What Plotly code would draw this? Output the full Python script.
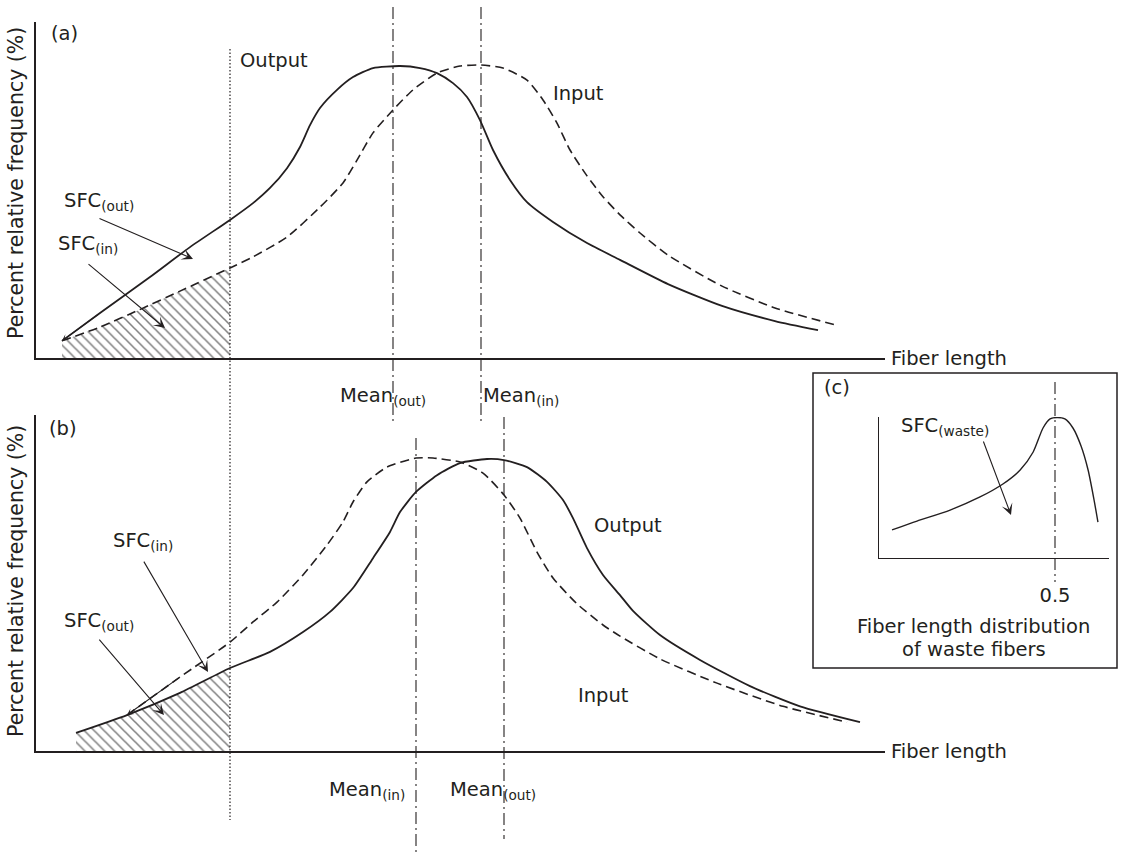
import plotly.graph_objects as go

W, H = 1123, 855
INK = "#231f20"
FONT = "DejaVu Sans"
FS = 19.5

# ---------------- data (arbitrary units) ----------------
# Panel (a): fiber length (x) vs percent relative frequency (y)
a_out_x = [2.6, 6.4, 11.4, 15.4, 19.4, 21.7, 23.4, 25.1, 26.4, 27.4, 28.4, 30.1, 31.7,
           33.7, 36.4, 38.4, 40.1, 41.7, 43.1, 44.4, 45.7, 47.4, 49.1, 51.7, 55.1,
           58.4, 63.2, 68.6, 73.9, 78.2]
a_out_y = [5.1, 13.4, 24.1, 33.0, 41.1, 46.1, 50.6, 56.5, 62.8, 69.3, 74.4, 79.8, 83.6,
           86.3, 86.9, 86.3, 84.8, 81.8, 77.7, 70.8, 61.9, 53.0, 46.4, 40.5, 34.2,
           29.2, 22.0, 15.5, 11.0, 8.3]
a_in_x = [2.6, 6.4, 10.3, 14.4, 19.4, 21.7, 25.1, 28.4, 30.7, 32.1, 33.7, 35.7, 37.7,
          40.1, 42.4, 44.5, 46.7, 49.1, 50.7, 52.1, 53.4, 55.1, 56.7, 58.4, 60.4,
          63.2, 68.6, 73.9, 80.0]
a_in_y = [5.1, 9.2, 14.3, 19.9, 26.8, 30.1, 36.0, 44.9, 52.1, 58.9, 67.0, 73.8, 79.8,
          84.8, 86.9, 87.2, 86.3, 82.7, 76.8, 69.9, 61.9, 54.2, 48.0, 42.6, 37.2,
          30.6, 21.4, 14.9, 9.8]

# Panel (b)
b_out_x = [4.0, 9.1, 14.4, 19.4, 23.4, 26.7, 29.4, 31.7, 33.7, 35.4, 36.4, 38.0, 40.1,
           42.4, 45.1, 46.8, 49.1, 51.1, 52.7, 53.7, 55.1, 56.7, 58.4, 59.7, 62.4,
           66.4, 71.4, 76.4, 82.4]
b_out_y = [5.4, 10.7, 17.3, 24.7, 29.5, 35.4, 41.4, 48.5, 57.4, 65.2, 71.1, 77.1, 82.1,
           85.7, 86.9, 86.6, 84.5, 80.1, 74.7, 69.3, 60.4, 52.4, 46.4, 41.7, 34.5,
           27.1, 19.3, 13.3, 8.6]
b_in_x = [9.1, 14.4, 19.4, 21.7, 24.1, 26.7, 29.1, 30.7, 31.7, 33.1, 35.1, 38.0, 39.7,
          42.4, 44.7, 46.8, 48.4, 50.1, 51.7, 54.1, 56.7, 58.4, 62.4, 68.1, 74.7, 81.1]
b_in_y = [10.7, 22.0, 32.4, 38.4, 44.3, 52.4, 61.3, 68.2, 74.1, 80.1, 84.5, 87.2, 87.2,
          86.0, 82.7, 76.2, 69.3, 59.2, 51.5, 43.8, 37.5, 34.2, 27.4, 20.2, 13.3, 8.6]

# Panel (c): waste fibre length distribution
c_x = [0.037, 0.108, 0.202, 0.287, 0.352, 0.401, 0.438, 0.466, 0.486, 0.506,
       0.528, 0.551, 0.574, 0.594, 0.611, 0.622]
c_y = [19.9, 26.2, 34.0, 43.3, 52.5, 62.4, 75.2, 92.2, 98.6, 99.6,
       98.6, 92.2, 79.4, 62.4, 41.1, 25.5]

sfc_cut = [19.4]                  # short-fibre cut-off length
mean_a = [35.7, 44.5]             # Mean(out), Mean(in) in (a)
mean_b = [38.0, 46.8]             # Mean(in), Mean(out) in (b)
c_tick = [0.5]
c_tick_text = ["0.5"]

# ---------------- helpers ----------------
def px(x):
    return x / W


def py(y):
    return 1 - y / H


fig = go.Figure()

line_solid = dict(color=INK, width=1.8, shape="spline", smoothing=0.6)
line_dash = dict(color=INK, width=1.6, dash="9px,5px", shape="spline", smoothing=0.6)

# hatched SFC areas
ha_x = [x for x in a_in_x if x <= sfc_cut[0]]
ha_y = a_in_y[:len(ha_x)]
hb_x = [x for x in b_out_x if x <= sfc_cut[0]]
hb_y = b_out_y[:len(hb_x)]
hatch = dict(shape="\\", fgcolor="#000000", bgcolor="rgba(0,0,0,0)", size=7, solidity=0.22)
fig.add_trace(go.Scatter(x=ha_x, y=ha_y, mode="lines", line=dict(width=0),
                         fill="tozeroy", fillpattern=hatch, fillcolor="rgba(0,0,0,0)",
                         xaxis="x", yaxis="y", hoverinfo="skip"))
fig.add_trace(go.Scatter(x=hb_x, y=hb_y, mode="lines", line=dict(width=0),
                         fill="tozeroy", fillpattern=hatch, fillcolor="rgba(0,0,0,0)",
                         xaxis="x2", yaxis="y2", hoverinfo="skip"))

fig.add_trace(go.Scatter(x=a_out_x, y=a_out_y, mode="lines", line=line_solid,
                         xaxis="x", yaxis="y"))
fig.add_trace(go.Scatter(x=a_in_x, y=a_in_y, mode="lines", line=line_dash,
                         xaxis="x", yaxis="y"))
fig.add_trace(go.Scatter(x=b_out_x, y=b_out_y, mode="lines", line=line_solid,
                         xaxis="x2", yaxis="y2"))
fig.add_trace(go.Scatter(x=b_in_x, y=b_in_y, mode="lines", line=line_dash,
                         xaxis="x2", yaxis="y2"))
fig.add_trace(go.Scatter(x=c_x, y=c_y, mode="lines",
                         line=dict(color=INK, width=1.4, shape="spline", smoothing=0.7),
                         xaxis="x3", yaxis="y3"))

ax_common = dict(showline=True, linecolor=INK, linewidth=1.6, showgrid=False,
                 zeroline=False, showticklabels=False, ticks="", fixedrange=True)
ax_dom = [px(36), px(885)]
fig.update_layout(
    xaxis=dict(domain=ax_dom, range=[0, 84.9], anchor="y", **ax_common),
    yaxis=dict(domain=[py(358), py(22)], range=[0, 100], anchor="x", **ax_common),
    xaxis2=dict(domain=ax_dom, range=[0, 84.9], anchor="y2", **ax_common),
    yaxis2=dict(domain=[py(751), py(415)], range=[0, 100], anchor="x2", **ax_common),
    xaxis3=dict(domain=[px(879), px(1109)], range=[0, 230 / 352], anchor="y3",
                showline=True, linecolor=INK, linewidth=1.4, showgrid=False, zeroline=False,
                ticks="", tickvals=c_tick, ticktext=c_tick_text, showticklabels=True,
                ticklabelstandoff=19, tickfont=dict(family=FONT, size=FS, color=INK),
                fixedrange=True),
    yaxis3=dict(domain=[py(558), py(417)], range=[0, 100], anchor="x3",
                showline=True, linecolor=INK, linewidth=1.4, showgrid=False, zeroline=False,
                showticklabels=False, ticks="", fixedrange=True),
)

# ---------------- shapes: reference lines and box ----------------
dashdot = dict(color=INK, width=1.1, dash="12px,4px,2px,4px")
shapes = [
    dict(type="line", xref="x", yref="paper", x0=sfc_cut[0], x1=sfc_cut[0],
         y0=py(49), y1=py(820), line=dict(color=INK, width=1.2, dash="1.5px,2px")),
    dict(type="line", xref="x", yref="paper", x0=mean_a[0], x1=mean_a[0],
         y0=py(7), y1=py(425), line=dashdot),
    dict(type="line", xref="x", yref="paper", x0=mean_a[1], x1=mean_a[1],
         y0=py(7), y1=py(425), line=dashdot),
    dict(type="line", xref="x2", yref="paper", x0=mean_b[0], x1=mean_b[0],
         y0=py(438), y1=py(855), line=dashdot),
    dict(type="line", xref="x2", yref="paper", x0=mean_b[1], x1=mean_b[1],
         y0=py(417), y1=py(839), line=dashdot),
    dict(type="line", xref="x3", yref="paper", x0=c_tick[0], x1=c_tick[0],
         y0=py(382), y1=py(582), line=dashdot),
    dict(type="rect", xref="paper", yref="paper", x0=px(813), x1=px(1117),
         y0=py(373), y1=py(668), line=dict(color=INK, width=1.5)),
]
fig.update_layout(shapes=shapes)

# ---------------- annotations ----------------
ann = []


def label(text, x, y, xanchor="left", angle=0, size=FS):
    ann.append(dict(text=text, x=px(x), y=py(y), xref="paper", yref="paper",
                    xanchor=xanchor, yanchor="middle", showarrow=False, textangle=angle,
                    font=dict(family=FONT, size=size, color=INK)))


def arrow(xr, yr, tail, head, size=1.7):
    ann.append(dict(text="", x=head[0], y=head[1], ax=tail[0], ay=tail[1],
                    xref=xr, yref=yr, axref=xr, ayref=yr, showarrow=True,
                    arrowhead=3, arrowsize=size, arrowwidth=1.1, arrowcolor=INK,
                    standoff=0, startstandoff=0))


label("(a)", 49, 33)
label("(b)", 47, 428)
label("(c)", 822, 387)
label("Output", 238, 61)
label("Input", 551, 93)
label("Output", 592, 525)
label("Input", 576, 695)
label("SFC<sub>(out)</sub>", 62, 201)
label("SFC<sub>(in)</sub>", 56, 245)
label("SFC<sub>(in)</sub>", 111, 541)
label("SFC<sub>(out)</sub>", 62, 621)
label("SFC<sub>(waste)</sub>", 899, 426)
label("Mean<sub>(out)</sub>", 338, 396)
label("Mean<sub>(in)</sub>", 481, 396)
label("Mean<sub>(in)</sub>", 327, 790)
label("Mean<sub>(out)</sub>", 448, 790)
label("Fiber length", 889, 358)
label("Fiber length", 889, 751)
label("Fiber length distribution", 973.5, 626, xanchor="center")
label("of waste fibers", 973.5, 649, xanchor="center")
label("Percent relative frequency (%)", 16, 183, xanchor="center", angle=-90, size=20.5)
label("Percent relative frequency (%)", 16, 581, xanchor="center", angle=-90, size=20.5)

arrow("x", "y", (6.2, 41.7), (15.7, 29.5))
arrow("x", "y", (5.1, 28.3), (12.9, 8.9))
arrow("x2", "y2", (10.7, 56.8), (17.2, 23.5))
arrow("x2", "y2", (6.2, 33.6), (12.8, 10.7))
arrow("x3", "y3", (0.295, 83.7), (0.375, 30.5))
# small drawn tips at the start of the curves
arrow("x", "y", (a_out_x[1], a_out_y[1]), (a_out_x[0], a_out_y[0]), size=1.0)
arrow("x2", "y2", (b_in_x[1], b_in_y[1]), (b_in_x[0], b_in_y[0]), size=1.0)

fig.update_layout(
    annotations=ann,
    width=W, height=H, autosize=False,
    margin=dict(l=0, r=0, t=0, b=0, pad=0),
    plot_bgcolor="white", paper_bgcolor="white",
    showlegend=False,
    font=dict(family=FONT, size=FS, color=INK),
)

fig.write_html("out.html", config={"displayModeBar": False},
               post_script="document.body.style.margin='0';")
